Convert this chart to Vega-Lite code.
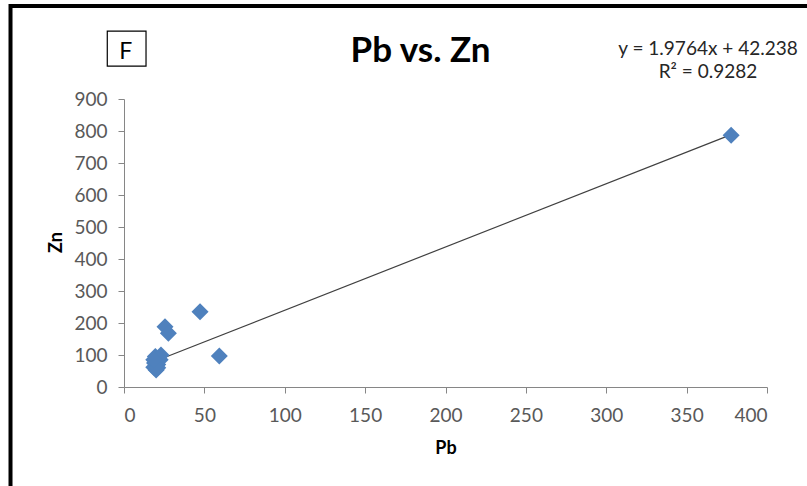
{
  "$schema": "https://vega.github.io/schema/vega-lite/v6.json",
  "width": 643,
  "height": 288,
  "autosize": "none",
  "padding": {"left": 124, "top": 99, "right": 40, "bottom": 99},
  "background": "white",
  "config": {
    "view": {"stroke": null},
    "font": "Lato",
    "axis": {
      "grid": false,
      "domainColor": "#868686",
      "tickColor": "#868686",
      "labelColor": "#595959",
      "labelFont": "Lato",
      "labelFontSize": 19,
      "labelOverlap": false,
      "titleFont": "Lato",
      "titleFontSize": 18,
      "titleFontWeight": "bold",
      "titleColor": "#000000",
      "tickSize": 6
    }
  },
  "title": {
    "text": "Pb vs. Zn",
    "font": "Lato",
    "fontSize": 35,
    "fontWeight": "bold",
    "color": "#000000",
    "anchor": "middle",
    "frame": "group",
    "baseline": "alphabetic",
    "dx": -25,
    "offset": -93
  },
  "datasets": {
    "points": [
      {"Pb": 377.7, "Zn": 787},
      {"Pb": 47.3, "Zn": 235},
      {"Pb": 59.3, "Zn": 97},
      {"Pb": 25.5, "Zn": 188},
      {"Pb": 27.6, "Zn": 168},
      {"Pb": 20, "Zn": 53},
      {"Pb": 18.5, "Zn": 62},
      {"Pb": 19, "Zn": 75},
      {"Pb": 21, "Zn": 70},
      {"Pb": 22.5, "Zn": 85},
      {"Pb": 19.5, "Zn": 95},
      {"Pb": 23, "Zn": 100},
      {"Pb": 21, "Zn": 60},
      {"Pb": 18.5, "Zn": 85}
    ],
    "trend": [
      {"Pb": 18.5, "Zn": 78.8},
      {"Pb": 377.7, "Zn": 788.7}
    ]
  },
  "layer": [
    {
      "data": {"name": "trend"},
      "mark": {"type": "line", "color": "#404040", "strokeWidth": 1.2, "clip": false},
      "encoding": {
        "x": {"field": "Pb", "type": "quantitative", "scale": {"domain": [0, 400]},
          "axis": {"values": [0, 50, 100, 150, 200, 250, 300, 350, 400], "title": "Pb", "labelPadding": 13, "titleBaseline": "middle", "titleY": 61}},
        "y": {"field": "Zn", "type": "quantitative", "scale": {"domain": [0, 900]},
          "axis": {"values": [0, 100, 200, 300, 400, 500, 600, 700, 800, 900], "title": "Zn", "labelPadding": 11, "labelOverlap": false, "titleX": -59, "titleY": 143}}
      }
    },
    {
      "data": {"name": "points"},
      "mark": {"type": "point", "shape": "diamond", "filled": true, "size": 290, "color": "#4F81BD", "opacity": 1},
      "encoding": {
        "x": {"field": "Pb", "type": "quantitative",
          "axis": {"values": [0, 50, 100, 150, 200, 250, 300, 350, 400], "title": "Pb", "labelPadding": 13, "titleBaseline": "middle", "titleY": 61}},
        "y": {"field": "Zn", "type": "quantitative",
          "axis": {"values": [0, 100, 200, 300, 400, 500, 600, 700, 800, 900], "title": "Zn", "labelPadding": 11, "labelOverlap": false, "titleX": -59, "titleY": 143}}
      }
    },
    {
      "data": {"values": [{}]},
      "mark": {"type": "rect", "fill": null, "stroke": "#000000", "strokeWidth": 4, "clip": false},
      "encoding": {
        "x": {"datum": -70.6, "type": "quantitative",
          "axis": {"values": [0, 50, 100, 150, 200, 250, 300, 350, 400], "title": "Pb", "labelPadding": 13, "titleBaseline": "middle", "titleY": 61}},
        "x2": {"datum": 428},
        "y": {"datum": 1191, "type": "quantitative",
          "axis": {"values": [0, 100, 200, 300, 400, 500, 600, 700, 800, 900], "title": "Zn", "labelPadding": 11, "labelOverlap": false, "titleX": -59, "titleY": 143}},
        "y2": {"datum": -328}
      }
    },
    {
      "data": {"values": [{}]},
      "mark": {"type": "rect", "fill": "white", "stroke": "#000000", "strokeWidth": 1.2, "clip": false},
      "encoding": {
        "x": {"datum": -10.4, "type": "quantitative",
          "axis": {"values": [0, 50, 100, 150, 200, 250, 300, 350, 400], "title": "Pb", "labelPadding": 13, "titleBaseline": "middle", "titleY": 61}},
        "x2": {"datum": 13.7},
        "y": {"datum": 1003, "type": "quantitative",
          "axis": {"values": [0, 100, 200, 300, 400, 500, 600, 700, 800, 900], "title": "Zn", "labelPadding": 11, "labelOverlap": false, "titleX": -59, "titleY": 143}},
        "y2": {"datum": 1112}
      }
    },
    {
      "data": {"values": [{}]},
      "mark": {"type": "text", "text": "F", "fontSize": 23, "font": "Lato", "color": "#000000", "align": "center", "baseline": "middle", "clip": false},
      "encoding": {
        "x": {"datum": 1.1, "type": "quantitative",
          "axis": {"values": [0, 50, 100, 150, 200, 250, 300, 350, 400], "title": "Pb", "labelPadding": 13, "titleBaseline": "middle", "titleY": 61}},
        "y": {"datum": 1048, "type": "quantitative",
          "axis": {"values": [0, 100, 200, 300, 400, 500, 600, 700, 800, 900], "title": "Zn", "labelPadding": 11, "labelOverlap": false, "titleX": -59, "titleY": 143}}
      }
    },
    {
      "data": {"values": [{}]},
      "mark": {"type": "text", "text": "y = 1.9764x + 42.238", "fontSize": 19, "font": "Lato", "color": "#262626", "align": "center", "baseline": "middle", "clip": false},
      "encoding": {
        "x": {"datum": 363.3, "type": "quantitative",
          "axis": {"values": [0, 50, 100, 150, 200, 250, 300, 350, 400], "title": "Pb", "labelPadding": 13, "titleBaseline": "middle", "titleY": 61}},
        "y": {"datum": 1057, "type": "quantitative",
          "axis": {"values": [0, 100, 200, 300, 400, 500, 600, 700, 800, 900], "title": "Zn", "labelPadding": 11, "labelOverlap": false, "titleX": -59, "titleY": 143}}
      }
    },
    {
      "data": {"values": [{}]},
      "mark": {"type": "text", "text": "R² = 0.9282", "fontSize": 19, "font": "Lato", "color": "#262626", "align": "center", "baseline": "middle", "clip": false},
      "encoding": {
        "x": {"datum": 363.3, "type": "quantitative",
          "axis": {"values": [0, 50, 100, 150, 200, 250, 300, 350, 400], "title": "Pb", "labelPadding": 13, "titleBaseline": "middle", "titleY": 61}},
        "y": {"datum": 983, "type": "quantitative",
          "axis": {"values": [0, 100, 200, 300, 400, 500, 600, 700, 800, 900], "title": "Zn", "labelPadding": 11, "labelOverlap": false, "titleX": -59, "titleY": 143}}
      }
    }
  ]
}
